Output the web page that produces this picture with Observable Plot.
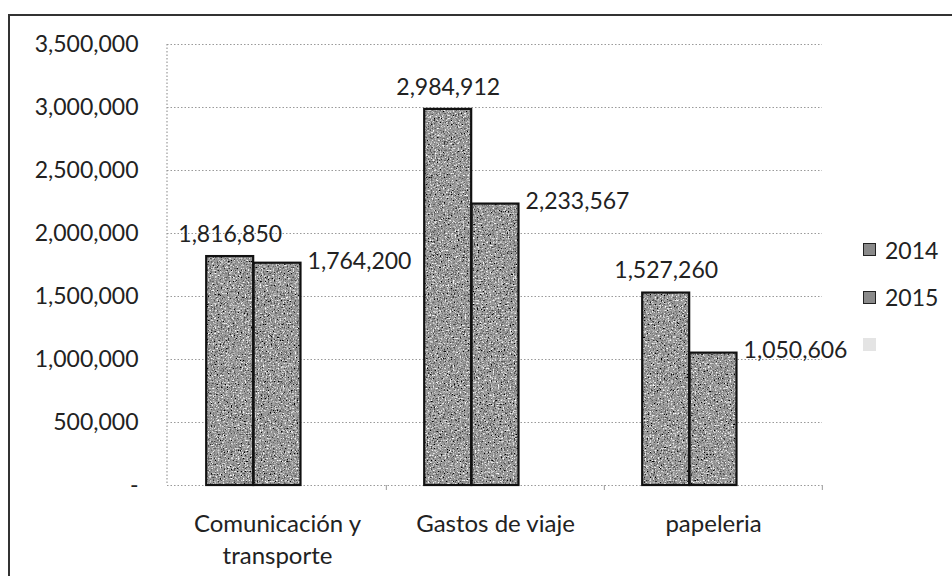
<!DOCTYPE html>
<html>
<head>
<meta charset="utf-8">
<script src="https://cdn.jsdelivr.net/npm/d3@7"></script>
<script src="https://cdn.jsdelivr.net/npm/@observablehq/plot@0.6"></script>
<style>
  html, body { margin: 0; padding: 0; background: #fff; }
  #wrap { position: relative; width: 952px; height: 576px; overflow: hidden; }
  #border { position: absolute; left: 8px; top: 14px; right: -2px; bottom: -2px;
            border-top: 2px solid #333; border-left: 2px solid #333; pointer-events: none; }
  #legend { position: absolute; left: 863px; top: 226px; font-family: Lato, sans-serif;
            font-size: 23px; color: #222; }
  .item { display: flex; align-items: center; height: 47.5px; }
  .sw { width: 13px; height: 13px; margin-right: 9px; box-sizing: border-box; }
</style>
</head>
<body>
<div id="wrap"><div id="chart"></div><div id="border"></div><div id="legend"></div></div>
<script>
const categories = ["Comunicación y\ntransporte", "Gastos de viaje", "papeleria"];
const values2014 = [1816850, 2984912, 1527260];
const values2015 = [1764200, 2233567, 1050606];
const seriesNames = ["2014", "2015", ""];
const yTicks = [0, 500000, 1000000, 1500000, 2000000, 2500000, 3000000, 3500000];

const rows2014 = categories.map((c, i) => ({cat: c, value: values2014[i]}));
const rows2015 = categories.map((c, i) => ({cat: c, value: values2015[i]}));

const W = 952, H = 576, ML = 167, MR = 130, MT = 44, MB = 91;
const bw = (W - ML - MR) / categories.length;
const group = bw * 0.65;
const slot = group / seriesNames.length;
const off = (bw - group) / 2;

const fill = "#999999";
const fmt = d3.format(",");
const ins14 = {insetLeft: off, insetRight: bw - off - slot};
const ins15 = {insetLeft: off + slot, insetRight: bw - off - 2 * slot};

const chart = Plot.plot({
  width: W, height: H,
  marginLeft: ML, marginRight: MR, marginTop: MT, marginBottom: MB,
  style: {fontFamily: "Lato, sans-serif", fontSize: "23px", color: "#222", background: "transparent"},
  x: {domain: categories, padding: 0, axis: null},
  y: {domain: [0, 3500000], ticks: yTicks, tickFormat: d => d === 0 ? "-" : fmt(d),
      label: null, tickSize: 0, tickPadding: 29},
  marks: [
    Plot.ruleY(yTicks, {stroke: "#9a9a9a", strokeWidth: 1.2, strokeDasharray: "1.5,2"}),
    Plot.barY(rows2014, {x: "cat", y: "value", fill, ...ins14}),
    Plot.barY(rows2015, {x: "cat", y: "value", fill, ...ins15}),
    Plot.barY(rows2014, {x: "cat", y: "value", fill: "none", stroke: "#111", strokeWidth: 2.2, ...ins14}),
    Plot.barY(rows2015, {x: "cat", y: "value", fill: "none", stroke: "#111", strokeWidth: 2.2, ...ins15}),
    Plot.text(rows2014, {x: "cat", y: "value", text: d => fmt(d.value), dx: -slot, dy: -22, fill: "#222"}),
    Plot.text(rows2015, {x: "cat", y: "value", text: d => fmt(d.value), dx: 82, dy: -2, fill: "#222"}),
    Plot.text(categories, {x: d => d, frameAnchor: "bottom", lineAnchor: "top", dy: 23,
      lineHeight: 1.35, fill: "#222", fontSize: 24})
  ]
});
document.getElementById("chart").appendChild(chart);

const xs = chart.scale("x"), ys = chart.scale("y");
const svg = d3.select(chart);

// grain filter to mimic the scanned texture of the bars
const defs = svg.insert("defs", ":first-child");
const f = defs.append("filter").attr("id", "grain").attr("x", 0).attr("y", 0)
  .attr("width", 1).attr("height", 1);
f.append("feTurbulence").attr("type", "fractalNoise").attr("baseFrequency", 0.7)
  .attr("numOctaves", 2).attr("seed", 3).attr("result", "n1");
f.append("feColorMatrix").attr("in", "n1").attr("type", "matrix")
  .attr("values", "0 0 0 0 0  0 0 0 0 0  0 0 0 0 0  4 0 0 0 -2.0").attr("result", "dark");
f.append("feTurbulence").attr("type", "fractalNoise").attr("baseFrequency", 0.6)
  .attr("numOctaves", 2).attr("seed", 11).attr("result", "n2");
f.append("feColorMatrix").attr("in", "n2").attr("type", "matrix")
  .attr("values", "0 0 0 0 1  0 0 0 0 1  0 0 0 0 1  4 0 0 0 -2.2").attr("result", "light");
f.append("feMerge").call(m => {
  m.append("feMergeNode").attr("in", "SourceGraphic");
  m.append("feMergeNode").attr("in", "dark");
  m.append("feMergeNode").attr("in", "light");
}).attr("result", "merged");
f.append("feComposite").attr("in", "merged").attr("in2", "SourceGraphic").attr("operator", "in");
svg.selectAll("rect").filter(function() {
  return this.getAttribute("fill") === fill || this.parentNode.getAttribute("fill") === fill;
}).attr("filter", "url(#grain)");

// left dotted axis line and small category-boundary ticks derived from the scales
const y0 = ys.apply(0), y1 = ys.apply(3500000);
svg.append("line").attr("x1", ML).attr("x2", ML).attr("y1", y1).attr("y2", y0)
  .attr("stroke", "#9a9a9a").attr("stroke-width", 1.2).attr("stroke-dasharray", "1.5,2");
categories.forEach((c) => {
  const xb = xs.apply(c) + bw;
  svg.append("line").attr("x1", xb).attr("x2", xb).attr("y1", y0).attr("y2", y0 + 5)
    .attr("stroke", "#9a9a9a").attr("stroke-width", 1);
});

// legend
const legend = document.getElementById("legend");
const swFill = ["#8a8a8a", "#8a8a8a", "#e4e4e4"];
seriesNames.forEach((s, i) => {
  const it = document.createElement("div"); it.className = "item";
  const sw = document.createElement("div"); sw.className = "sw";
  sw.style.background = swFill[i];
  if (i < 2) sw.style.border = "1.5px solid #222";
  const t = document.createElement("span"); t.textContent = s;
  it.appendChild(sw); it.appendChild(t); legend.appendChild(it);
});
</script>
</body>
</html>
